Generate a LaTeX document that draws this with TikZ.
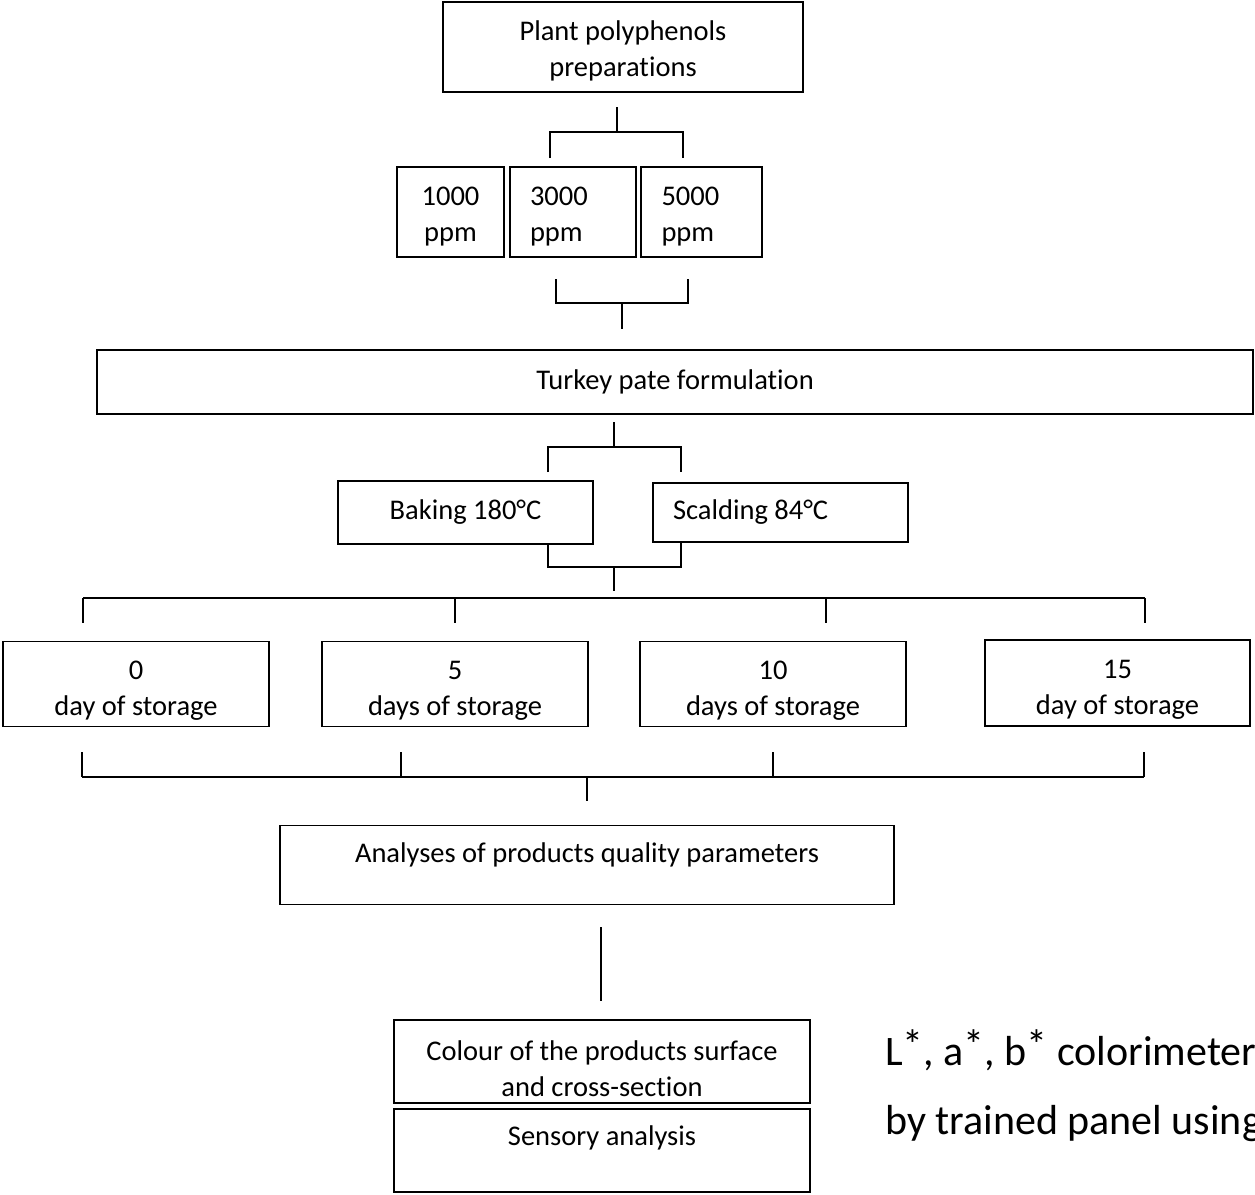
\documentclass[tikz,border=0pt]{standalone}
\usepackage{fontspec}
\setmainfont{Carlito}[Ligatures=NoCommon]
\newcommand\hstar{\raisebox{.14em}{*}}
\begin{document}
\begin{tikzpicture}[x=1pt,y=-1pt,
    box/.style={draw,line width=1.6pt,inner sep=0pt,align=center,font=\fontsize{28.5}{36}\selectfont},
    lbox/.style={box,align=flush left,inner xsep=20pt,text height=20pt,text depth=33pt},
    pair/.style={box,align=flush center,text width=#1,text height=20pt,text depth=33pt},
    note/.style={anchor=base west,inner sep=0pt,font=\fontsize{42}{50}\selectfont},
    link/.style={line width=1.5pt}]
  \useasboundingbox (0,0) rectangle (1255,1194);
  \node[pair=360pt,minimum height=90pt] (plant) at (623,47) {Plant polyphenols\\preparations};
  \node[pair=107pt,minimum height=90pt] (ppm1) at (450.5,212) {1000\\ppm};
  \node[lbox,text width=86pt,minimum width=126pt,minimum height=90pt] (ppm3) at (573,212) {3000\\ppm};
  \node[lbox,text width=80pt,minimum width=121pt,minimum height=90pt] (ppm5) at (701.5,212) {5000\\ppm};
  \node[box,minimum width=1156pt,minimum height=64pt] (turkey) at (675,382) {Turkey pate formulation};
  \node[box,minimum width=255pt,minimum height=63pt] (baking) at (465.5,512.5) {Baking 180°C};
  \node[lbox,text width=215pt,text depth=6pt,minimum width=255pt,minimum height=59pt] (scalding) at (780.5,512.5) {Scalding 84°C};
  \node[pair=266pt,text depth=29pt,minimum height=85pt] (day0) at (136,684) {0\\day of storage};
  \node[pair=266pt,text depth=29pt,minimum height=85pt] (day5) at (455,684) {5\\days of storage};
  \node[pair=266pt,text depth=29pt,minimum height=85pt] (day10) at (773,684) {10\\days of storage};
  \node[pair=265pt,text depth=29pt,minimum height=86pt] (day15) at (1117.5,683) {15\\day of storage};
  \node[box,minimum width=614pt,minimum height=79pt,text height=20pt,text depth=26pt] (quality) at (587,865) {Analyses of products quality parameters};
  \node[pair=416pt,text depth=22pt,minimum height=83pt] (colour) at (602,1061.5) {Colour of the products surface\\and cross-section};
  \node[box,minimum width=416pt,minimum height=83pt,text height=20pt,text depth=31pt] (sensory) at (602,1150.5) {Sensory analysis};
  \node[note] (colnote) at (885,1065) {L\hstar, a\hstar, b\hstar\ colorimeter};
  \node[note] (sensnote) at (885,1134) {by trained panel using};
  \coordinate (c1) at (617,107); \coordinate (c1m) at (617,132);
  \coordinate (c1l) at (550,158); \coordinate (c1r) at (683,158);
  \draw[link] (c1) -- (c1m) (c1l) |- (c1m) -| (c1r);
  \coordinate (c2l) at (556,279); \coordinate (c2r) at (688,279);
  \coordinate (c2m) at (622,303); \coordinate (c2) at (622,329);
  \draw[link] (c2l) |- (c2m) -| (c2r) (c2m) -- (c2);
  \coordinate (c3) at (614,422); \coordinate (c3m) at (614,447);
  \coordinate (c3l) at (548,472); \coordinate (c3r) at (681,472);
  \draw[link] (c3) -- (c3m) (c3l) |- (c3m) -| (c3r);
  \coordinate (c4m) at (614,567); \coordinate (c4) at (614,591);
  \draw[link] (baking.south -| c3l) |- (c4m) -| (scalding.south -| c3r) (c4m) -- (c4);
  \coordinate (c5l) at (83,598); \coordinate (c5r) at (1145,598);
  \draw[link] (c5l) -- (c5r);
  \foreach \x in {83,455,826,1145}
    \draw[link] (\x,598) -- (\x,623);
  \coordinate (c6l) at (82,777); \coordinate (c6r) at (1144,777);
  \coordinate (c6m) at (587,777); \coordinate (c6) at (587,801);
  \draw[link] (c6l) -- (c6r) (c6m) -- (c6);
  \foreach \x in {82,401,773,1144}
    \draw[link] (\x,752) -- (\x,777);
  \coordinate (c7) at (601,927); \coordinate (c7e) at (601,1001);
  \draw[link] (c7) -- (c7e);
\end{tikzpicture}
\end{document}
